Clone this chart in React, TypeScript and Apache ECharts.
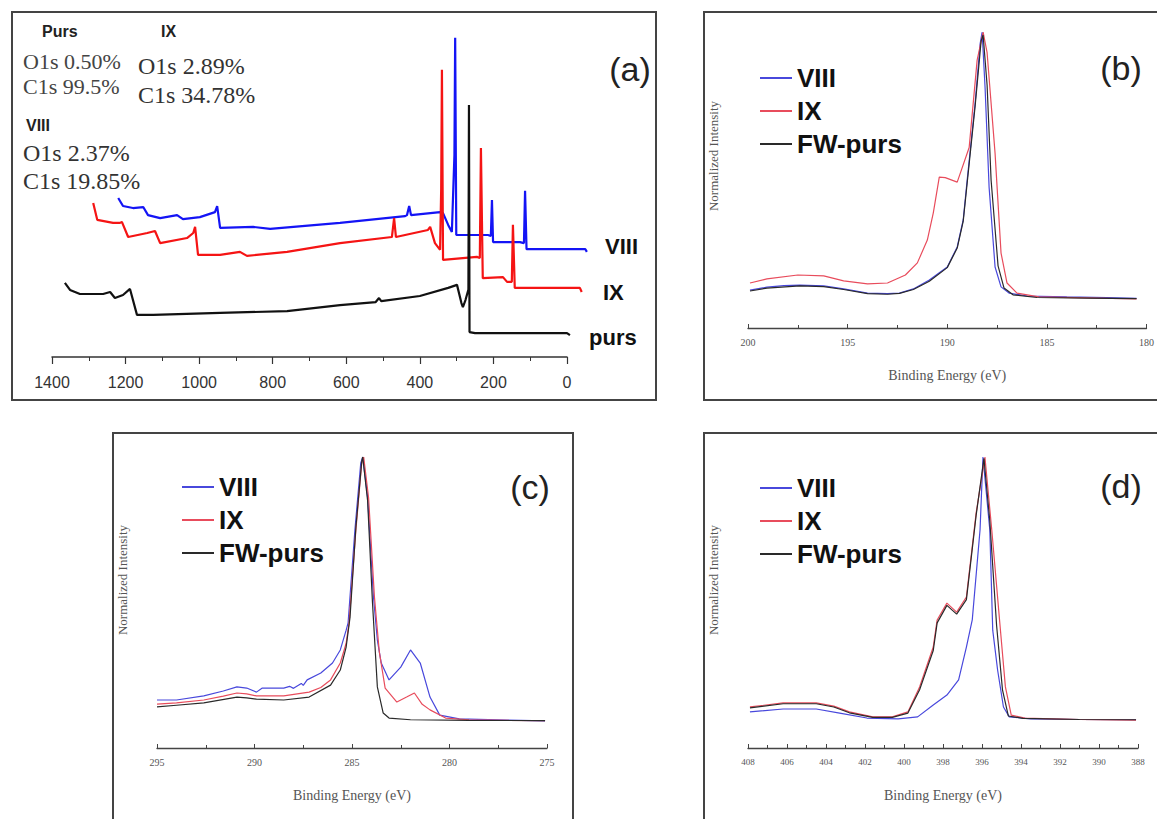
import React, { useEffect, useRef } from "react";
import * as echarts from "echarts";

// ---------- Panel (a): survey spectra, [binding energy (eV), intensity (a.u.)] ----------
const surveyVIII: [number, number][] = [
  [1220, 47.2], [1207, 44.8], [1180, 44.2], [1152, 44.5], [1139, 42.1], [1106, 41.2], [1060, 42.1],
  [1044, 40.9], [998, 41.5], [957, 43.0], [951, 44.8], [943, 38.3], [853, 38.6], [807, 38.0],
  [617, 39.8], [440, 41.8], [435, 42.1], [429, 44.8], [424, 42.1], [345, 43.0], [337, 42.7],
  [323, 39.2], [313, 37.1], [306, 60], [304, 94.7], [301, 36.2], [215, 36.2], [207, 35.9],
  [204, 46.6], [201, 34.1], [128, 34.1], [117, 33.8], [114, 49.3], [110, 32.0], [-50, 32.0], [-54, 31.2],
];
const surveyIX: [number, number][] = [
  [1288, 45.7], [1277, 40.7], [1234, 39.8], [1215, 39.8], [1210, 40.1], [1193, 35.6], [1141, 36.8],
  [1120, 37.4], [1106, 33.8], [1033, 35.3], [1016, 36.8], [1011, 38.6], [1003, 30.3], [943, 30.3],
  [889, 31.2], [870, 30.0], [761, 31.2], [617, 33.8], [476, 35.6], [470, 41.2], [465, 35.6],
  [378, 37.7], [372, 38.6], [359, 33.8], [345, 31.8], [342, 50], [340, 85.2], [337, 28.8],
  [245, 29.7], [237, 29.4], [234, 62.0], [229, 23.4], [174, 23.7], [163, 22.3], [150, 22.3],
  [147, 39.2], [142, 20.5], [-35, 20.5], [-40, 19.3],
];
const surveyPurs: [number, number][] = [
  [1365, 22.0], [1351, 19.9], [1324, 18.7], [1261, 18.7], [1242, 19.3], [1229, 17.5], [1207, 18.4],
  [1188, 20.2], [1169, 12.5], [1125, 12.5], [943, 13.1], [761, 13.6], [617, 15.4], [520, 16.3],
  [511, 17.5], [505, 16.6], [400, 18.1], [323, 20.5], [299, 21.4], [287, 16.0], [283, 14.8],
  [276, 16.9], [268, 20], [266.5, 74.8], [265, 7.4], [250, 7.1], [0, 7.1], [-8, 6.5],
];
const surveyLabels = ["VIII", "IX", "purs"];
const compositionHeads = ["Purs", "IX", "VIII"];
const compositionPurs = ["O1s 0.50%", "C1s 99.5%"];
const compositionIX = ["O1s 2.89%", "C1s 34.78%"];
const compositionVIII = ["O1s 2.37%", "C1s 19.85%"];

// ---------- Panel (b) ----------
const bVIII: [number, number][] = [
  [199.9, 0.128], [199.05, 0.138], [198.2, 0.143], [197.4, 0.145], [196.2, 0.142], [195.2, 0.132],
  [194.0, 0.118], [193.0, 0.116], [192.4, 0.118], [191.7, 0.132], [190.9, 0.162], [190.0, 0.206],
  [189.5, 0.274], [189.2, 0.365], [189.0, 0.5], [188.6, 0.76], [188.35, 0.96], [188.25, 1.0],
  [188.1, 0.81], [187.9, 0.476], [187.6, 0.206], [187.3, 0.139], [186.9, 0.118], [186.0, 0.108],
  [184, 0.105], [182, 0.103], [180.5, 0.1],
];
const bIX: [number, number][] = [
  [199.9, 0.152], [199.05, 0.166], [197.5, 0.179], [196.2, 0.176], [195.2, 0.159], [194.0, 0.149],
  [193.0, 0.152], [192.1, 0.179], [191.5, 0.22], [191.0, 0.297], [190.7, 0.389], [190.4, 0.51],
  [190.1, 0.508], [189.5, 0.493], [188.9, 0.61], [188.5, 0.905], [188.2, 1.0], [188.0, 0.93],
  [187.6, 0.59], [187.3, 0.253], [187.0, 0.152], [186.5, 0.118], [185.4, 0.105], [183, 0.102], [180.5, 0.098],
];
const bPurs: [number, number][] = [
  [199.9, 0.125], [199.05, 0.135], [197.4, 0.142], [196.2, 0.14], [195.2, 0.13], [194.0, 0.116],
  [193.0, 0.114], [192.4, 0.117], [191.7, 0.13], [190.9, 0.158], [190.0, 0.204], [189.5, 0.27],
  [189.2, 0.36], [189.0, 0.49], [188.6, 0.75], [188.3, 0.97], [188.2, 0.99], [188.0, 0.82],
  [187.8, 0.5], [187.45, 0.21], [187.15, 0.135], [186.7, 0.112], [185.5, 0.103], [183, 0.101], [180.5, 0.099],
];

// ---------- Panel (c) ----------
const cVIII: [number, number][] = [
  [295.0, 0.165], [294.0, 0.165], [292.6, 0.179], [291.6, 0.196], [290.9, 0.21], [290.4, 0.206],
  [289.9, 0.192], [289.6, 0.206], [288.5, 0.206], [288.2, 0.212], [288.0, 0.205], [287.6, 0.222],
  [287.5, 0.215], [287.3, 0.234], [286.6, 0.258], [286.0, 0.292], [285.6, 0.337], [285.3, 0.405],
  [285.2, 0.43], [284.85, 0.75], [284.55, 0.98], [284.45, 1.0], [284.2, 0.862], [283.9, 0.52],
  [283.7, 0.371], [283.5, 0.292], [283.1, 0.234], [282.5, 0.278], [282.0, 0.337], [281.5, 0.292],
  [281.0, 0.175], [280.5, 0.113], [279.5, 0.1], [277, 0.096], [275.1, 0.093],
];
const cIX: [number, number][] = [
  [295.0, 0.151], [294.0, 0.155], [292.6, 0.165], [291.6, 0.178], [290.9, 0.189], [290.4, 0.186],
  [289.9, 0.179], [288.5, 0.179], [287.2, 0.192], [286.6, 0.208], [286.1, 0.234], [285.6, 0.292],
  [285.3, 0.36], [285.15, 0.43], [284.8, 0.75], [284.5, 0.98], [284.4, 1.0], [284.15, 0.86],
  [283.85, 0.52], [283.6, 0.33], [283.3, 0.206], [282.7, 0.158], [282.2, 0.175], [281.8, 0.189],
  [281.4, 0.15], [281.0, 0.131], [280.2, 0.103], [279, 0.097], [277, 0.095], [275.1, 0.094],
];
const cPurs: [number, number][] = [
  [295.0, 0.141], [294.0, 0.147], [292.6, 0.155], [290.9, 0.175], [290.4, 0.172], [289.9, 0.168],
  [288.5, 0.165], [287.2, 0.175], [286.1, 0.216], [285.6, 0.268], [285.3, 0.347], [285.1, 0.45],
  [284.8, 0.76], [284.5, 0.985], [284.45, 1.0], [284.2, 0.85], [283.95, 0.5], [283.7, 0.21],
  [283.4, 0.12], [283.1, 0.103], [282, 0.097], [279, 0.095], [275.1, 0.094],
];

// ---------- Panel (d) ----------
const dVIII: [number, number][] = [
  [407.9, 0.124], [406.2, 0.134], [404.5, 0.134], [403.3, 0.12], [401.9, 0.103], [400.3, 0.1],
  [399.3, 0.107], [398.5, 0.148], [397.8, 0.182], [397.2, 0.234], [396.8, 0.347], [396.5, 0.44],
  [396.1, 0.75], [395.95, 1.0], [395.6, 0.75], [395.45, 0.405], [395.2, 0.268], [394.9, 0.141],
  [394.6, 0.107], [393.5, 0.1], [391, 0.098], [388.1, 0.097],
];
const dIX: [number, number][] = [
  [407.9, 0.141], [406.2, 0.155], [404.5, 0.155], [403.6, 0.144], [402.8, 0.124], [401.6, 0.107],
  [400.6, 0.107], [399.8, 0.124], [399.2, 0.21], [398.5, 0.347], [398.3, 0.44], [397.8, 0.498],
  [397.3, 0.467], [396.8, 0.519], [396.3, 0.808], [395.85, 1.0], [395.5, 0.75], [395.1, 0.44],
  [394.8, 0.21], [394.5, 0.113], [393.8, 0.103], [391, 0.098], [388.1, 0.096],
];
const dPurs: [number, number][] = [
  [407.9, 0.138], [406.2, 0.152], [404.5, 0.152], [403.6, 0.141], [402.8, 0.121], [401.6, 0.105],
  [400.6, 0.105], [399.8, 0.12], [399.2, 0.2], [398.5, 0.335], [398.3, 0.43], [397.8, 0.49],
  [397.3, 0.46], [396.8, 0.51], [396.3, 0.8], [395.9, 0.995], [395.6, 0.78], [395.25, 0.42],
  [394.95, 0.2], [394.65, 0.11], [393.9, 0.102], [391, 0.098], [388.1, 0.097],
];

const legendNames = ["VIII", "IX", "FW-purs"];
const panelLetters = ["(a)", "(b)", "(c)", "(d)"];
const xTitle = "Binding Energy (eV)";
const yTitle = "Normalized Intensity";

const SANS = "'Liberation Sans', Arial, sans-serif";
const SERIF = "'Liberation Serif', 'Times New Roman', serif";
const C_BLUE = "#4848dc";
const C_RED = "#e84c5c";
const C_BLACK = "#2a2a2a";

function hrAxis(grid: number, min: number, max: number, interval: number, fs: number) {
  return {
    gridIndex: grid,
    type: "value",
    min,
    max,
    interval,
    inverse: true,
    name: xTitle,
    nameLocation: "middle",
    nameGap: 40,
    nameTextStyle: { fontFamily: SERIF, fontSize: 14, color: "#555" },
    axisLine: { show: true, onZero: false, lineStyle: { color: "#444", width: 1.3 } },
    axisTick: { show: true, inside: true, length: 4, lineStyle: { color: "#444" } },
    minorTick: { show: true, splitNumber: 2, length: 3, lineStyle: { color: "#444" } },
    splitLine: { show: false },
    minorSplitLine: { show: false },
    axisLabel: { fontFamily: SERIF, fontSize: fs, color: "#555", margin: 9, showMinLabel: true, showMaxLabel: true, hideOverlap: false },
  };
}

function thin(name: string, data: [number, number][], idx: number, color: string) {
  return {
    type: "line",
    name,
    data,
    xAxisIndex: idx,
    yAxisIndex: idx,
    showSymbol: false,
    symbol: "none",
    lineStyle: { color, width: 1.2 },
    itemStyle: { color },
    z: name === "FW-purs" ? 3 : 2,
  };
}

// survey series live on a hidden axis (grid 4) that shares the visible axis scale
// but extends a little past 0 eV, where the recorded traces end.
function survey(name: string, data: [number, number][], color: string) {
  return {
    type: "line",
    name,
    data,
    xAxisIndex: 4,
    yAxisIndex: 4,
    showSymbol: false,
    symbol: "none",
    lineStyle: { color, width: 2.2 },
    itemStyle: { color },
  };
}

function legendAt(left: number, top: number) {
  return {
    data: legendNames,
    orient: "vertical",
    left,
    top,
    padding: 0,
    itemGap: 5,
    itemWidth: 32,
    itemHeight: 2,
    icon: "rect",
    textStyle: { fontFamily: SANS, fontSize: 26, fontWeight: "bold", color: "#111", lineHeight: 28 },
  };
}

function txt(text: string, x: number, y: number, font: string, fill: string, align = "left", rotation = 0) {
  return {
    type: "text",
    x,
    y,
    rotation,
    style: { text, font, fill, align, verticalAlign: "middle" },
  };
}

function frame(x: number, y: number, w: number, h: number) {
  return {
    type: "rect",
    shape: { x, y, width: w, height: h },
    style: { fill: "none", stroke: "#444", lineWidth: 2 },
  };
}

const PX_PER_EV = 515 / 1400;

export default function App() {
  const ref = useRef<HTMLDivElement>(null);
  useEffect(() => {
    document.body.style.margin = "0";
    if (!ref.current) return;
    const chart = echarts.init(ref.current, undefined, { renderer: "svg" });
    const option: any = {
      animation: false,
      backgroundColor: "#ffffff",
      grid: [
        { left: 52, top: 20, width: 515, height: 337 },
        { left: 748, top: 32, width: 399, height: 296 },
        { left: 157, top: 457, width: 390, height: 291 },
        { left: 748, top: 457, width: 390, height: 291 },
        { left: 52, top: 20, width: 1460 * PX_PER_EV, height: 337 },
      ],
      xAxis: [
        {
          gridIndex: 0,
          type: "value",
          min: 0,
          max: 1400,
          interval: 200,
          inverse: true,
          axisLine: { show: true, onZero: false, lineStyle: { color: "#333", width: 1.5 } },
          axisTick: { show: true, length: 7, lineStyle: { color: "#333", width: 1.2 } },
          minorTick: { show: true, splitNumber: 2, length: 4, lineStyle: { color: "#333" } },
          splitLine: { show: false },
          minorSplitLine: { show: false },
          axisLabel: {
            fontFamily: SANS,
            fontSize: 16,
            color: "#333",
            margin: 17,
            showMinLabel: true,
            showMaxLabel: true,
            formatter: (v: number) => String(v),
          },
        },
        hrAxis(1, 180, 200, 5, 10),
        hrAxis(2, 275, 295, 5, 10),
        hrAxis(3, 388, 408, 2, 9),
        { gridIndex: 4, type: "value", min: -60, max: 1400, inverse: true, show: false },
      ],
      yAxis: [
        { gridIndex: 0, type: "value", min: 0, max: 100, show: false },
        { gridIndex: 1, type: "value", min: 0, max: 1, show: false },
        { gridIndex: 2, type: "value", min: 0, max: 1, show: false },
        { gridIndex: 3, type: "value", min: 0, max: 1, show: false },
        { gridIndex: 4, type: "value", min: 0, max: 100, show: false },
      ],
      legend: [legendAt(760, 64), legendAt(182, 473), legendAt(760, 474)],
      series: [
        survey("VIII survey", surveyVIII, "#1414f5"),
        survey("IX survey", surveyIX, "#f51414"),
        survey("purs survey", surveyPurs, "#111111"),
        thin("VIII", bVIII, 1, C_BLUE),
        thin("IX", bIX, 1, C_RED),
        thin("FW-purs", bPurs, 1, C_BLACK),
        thin("VIII", cVIII, 2, C_BLUE),
        thin("IX", cIX, 2, C_RED),
        thin("FW-purs", cPurs, 2, C_BLACK),
        thin("VIII", dVIII, 3, C_BLUE),
        thin("IX", dIX, 3, C_RED),
        thin("FW-purs", dPurs, 3, C_BLACK),
      ],
      graphic: [
        frame(12, 12, 644, 388),
        frame(704, 12, 470, 388),
        frame(113, 433, 460, 400),
        frame(704, 433, 470, 400),
        txt(panelLetters[0], 630, 69, `34px ${SANS}`, "#222", "center"),
        txt(panelLetters[1], 1121, 68, `34px ${SANS}`, "#222", "center"),
        txt(panelLetters[2], 530, 487, `34px ${SANS}`, "#222", "center"),
        txt(panelLetters[3], 1121, 486, `34px ${SANS}`, "#222", "center"),
        txt(surveyLabels[0], 605, 246, `bold 22px ${SANS}`, "#111"),
        txt(surveyLabels[1], 603, 292, `bold 22px ${SANS}`, "#111"),
        txt(surveyLabels[2], 589, 337, `bold 22px ${SANS}`, "#111"),
        txt(compositionHeads[0], 42, 31, `bold 16px ${SANS}`, "#222"),
        txt(compositionHeads[1], 161, 31, `bold 16px ${SANS}`, "#222"),
        txt(compositionHeads[2], 26, 125, `bold 16px ${SANS}`, "#222"),
        txt(compositionPurs[0], 23, 61, `22px ${SERIF}`, "#444"),
        txt(compositionPurs[1], 23, 86, `22px ${SERIF}`, "#444"),
        txt(compositionIX[0], 138, 66, `24px ${SERIF}`, "#333"),
        txt(compositionIX[1], 138, 95, `24px ${SERIF}`, "#333"),
        txt(compositionVIII[0], 23, 153, `24px ${SERIF}`, "#333"),
        txt(compositionVIII[1], 23, 181, `24px ${SERIF}`, "#333"),
        txt(yTitle, 713, 156, `13px ${SERIF}`, "#555", "center", Math.PI / 2),
        txt(yTitle, 122, 580, `13px ${SERIF}`, "#555", "center", Math.PI / 2),
        txt(yTitle, 713, 580, `13px ${SERIF}`, "#555", "center", Math.PI / 2),
      ],
    };
    chart.setOption(option);
    return () => chart.dispose();
  }, []);
  return <div ref={ref} style={{ width: 1157, height: 819 }} />;
}
